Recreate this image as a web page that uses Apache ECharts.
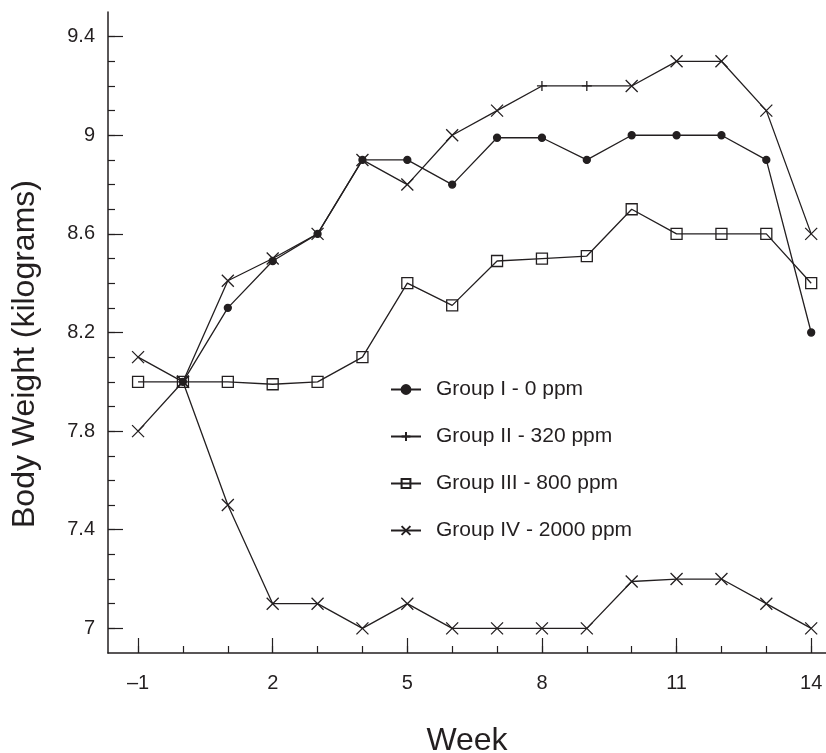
<!DOCTYPE html>
<html>
<head>
<meta charset="utf-8">
<script src="https://cdn.jsdelivr.net/npm/echarts@6/dist/echarts.min.js"></script>
<style>
html, body { margin: 0; padding: 0; background: #fff; }
#chart { width: 826px; height: 753px; }
</style>
</head>
<body>
<div id="chart"></div>
<script>
// weeks on study, week -1 is pre-treatment
var weeks = [-1, 0, 1, 2, 3, 4, 5, 6, 7, 8, 9, 10, 11, 12, 13, 14];
var groupI = [null, 8.0, 8.3, 8.49, 8.6, 8.9, 8.9, 8.8, 8.99, 8.99, 8.9, 9.0, 9.0, 9.0, 8.9, 8.2];
var groupII = [7.8, 8.0, 8.41, 8.5, 8.6, 8.9, 8.8, 9.0, 9.1, 9.2, 9.2, 9.2, 9.3, 9.3, 9.1, 8.6];
var groupIII = [8.0, 8.0, 8.0, 7.99, 8.0, 8.1, 8.4, 8.31, 8.49, 8.5, 8.51, 8.7, 8.6, 8.6, 8.6, 8.4];
var groupIV = [8.1, 8.0, 7.5, 7.1, 7.1, 7.0, 7.1, 7.0, 7.0, 7.0, 7.0, 7.19, 7.2, 7.2, 7.1, 7.0];
var seriesNames = ['Group I - 0 ppm', 'Group II - 320 ppm', 'Group III - 800 ppm', 'Group IV - 2000 ppm'];

var xMajorTicks = [-1, 2, 5, 8, 11, 14];
var yMajorTicks = [7, 7.4, 7.8, 8.2, 8.6, 9, 9.4];
var yMinorTicks = [7, 7.1, 7.2, 7.3, 7.4, 7.5, 7.6, 7.7, 7.8, 7.9, 8, 8.1, 8.2, 8.3, 8.4, 8.5,
                   8.6, 8.7, 8.8, 8.9, 9, 9.1, 9.2, 9.3, 9.4];

var ink = '#231f20';
var font = "'Liberation Sans', Arial, sans-serif";

var crossPath = 'path://M0,0L10,10M10,0L0,10';
var plusPath = 'path://M5,0L5,10M0,5L10,5';
var squarePath = 'path://M0,0L10,0L10,10L0,10Z';

function pairs(vals) {
    var out = [];
    for (var i = 0; i < weeks.length; i++) {
        if (vals[i] != null) out.push([weeks[i], vals[i]]);
    }
    return out;
}

// group II is drawn with crosses except where the plus mark shows (weeks 8, 9)
function groupIIData() {
    return pairs(groupII).map(function (p) {
        var item = { value: p };
        if (p[0] !== 8 && p[0] !== 9) {
            item.symbol = crossPath;
            item.symbolSize = 12;
        }
        return item;
    });
}

function lineSeries(name, data, symbol, size, fill) {
    return {
        name: name,
        type: 'line',
        data: data,
        symbol: symbol,
        symbolSize: size,
        showSymbol: true,
        animation: false,
        lineStyle: { color: ink, width: 1.3 },
        itemStyle: { color: fill, borderColor: ink, borderWidth: 1.3 },
        emphasis: { disabled: true }
    };
}

var baseX = {
    type: 'value',
    min: -1.67,
    max: 14.33,
    position: 'bottom',
    splitLine: { show: false }
};

var baseY = {
    type: 'value',
    min: 6.9,
    max: 9.5,
    position: 'left',
    splitLine: { show: false }
};

var myChart = echarts.init(document.getElementById('chart'));
var option = {
    backgroundColor: '#fff',
    animation: false,
    grid: { left: 108, right: 0, top: 12, bottom: 100 },
    xAxis: [
        Object.assign({}, baseX, {
            axisLine: { show: true, onZero: false, lineStyle: { color: ink, width: 1.5 } },
            axisTick: { show: true, inside: true, length: 7, customValues: weeks, lineStyle: { color: ink, width: 1.2 } },
            axisLabel: { show: false }
        }),
        Object.assign({}, baseX, {
            axisLine: { show: false, onZero: false },
            axisTick: { show: true, inside: true, length: 15, customValues: xMajorTicks, lineStyle: { color: ink, width: 1.2 } },
            axisLabel: {
                show: true,
                customValues: xMajorTicks,
                margin: 20,
                fontSize: 20,
                fontFamily: font,
                color: ink,
                formatter: function (v) { return v < 0 ? '\u2013' + Math.abs(v) : String(v); }
            }
        })
    ],
    yAxis: [
        Object.assign({}, baseY, {
            axisLine: { show: true, onZero: false, lineStyle: { color: ink, width: 1.5 } },
            axisTick: { show: true, inside: true, length: 7, customValues: yMinorTicks, lineStyle: { color: ink, width: 1.2 } },
            axisLabel: { show: false }
        }),
        Object.assign({}, baseY, {
            axisLine: { show: false, onZero: false },
            axisTick: { show: true, inside: true, length: 15, customValues: yMajorTicks, lineStyle: { color: ink, width: 1.2 } },
            axisLabel: {
                show: true,
                customValues: yMajorTicks,
                margin: 13,
                fontSize: 20,
                fontFamily: font,
                color: ink
            }
        })
    ],
    legend: {
        orient: 'vertical',
        left: 385,
        top: 374,
        itemGap: 26,
        itemWidth: 30,
        itemHeight: 11,
        data: seriesNames,
        textStyle: { fontSize: 21, fontFamily: font, color: ink, padding: [0, 0, 0, 10] }
    },
    graphic: [
        {
            type: 'text',
            x: 25,
            y: 354,
            rotation: Math.PI / 2,
            style: { text: 'Body Weight (kilograms)', fontSize: 32, fontFamily: font, fill: ink, align: 'center', verticalAlign: 'middle' }
        },
        {
            type: 'text',
            x: 467,
            y: 725,
            style: { text: 'Week', fontSize: 32, fontFamily: font, fill: ink, align: 'center', verticalAlign: 'top' }
        }
    ],
    series: [
        lineSeries(seriesNames[0], pairs(groupI), 'circle', 7, ink),
        lineSeries(seriesNames[1], groupIIData(), plusPath, 10, 'none'),
        lineSeries(seriesNames[2], pairs(groupIII), squarePath, 11, 'none'),
        lineSeries(seriesNames[3], pairs(groupIV), crossPath, 12, 'none')
    ]
};
myChart.setOption(option);
</script>
</body>
</html>
